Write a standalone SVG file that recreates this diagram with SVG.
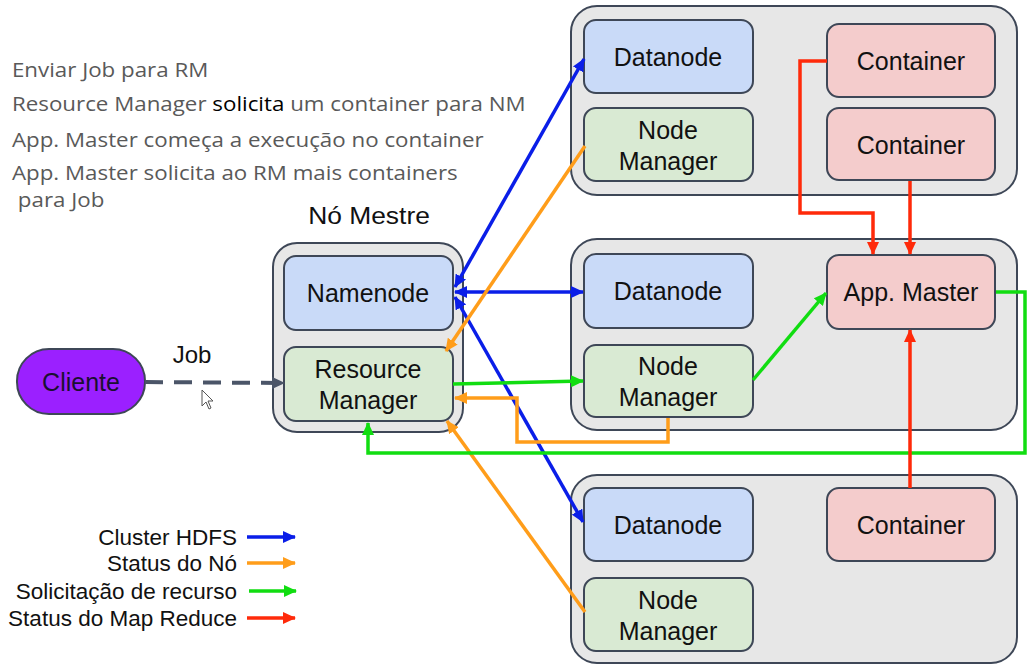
<svg xmlns="http://www.w3.org/2000/svg" width="1031" height="665" viewBox="0 0 1031 665">
<style>
.srv{fill:#e7e7e7;stroke:#3e4757;stroke-width:2}
.dn{fill:#c9daf8;stroke:#3e4757;stroke-width:2}
.nm{fill:#d9ead3;stroke:#3e4757;stroke-width:2}
.ct{fill:#f4cccc;stroke:#3e4757;stroke-width:2}
.lbl{font-family:"Liberation Sans",Arial,sans-serif;font-size:25px;fill:#111;text-anchor:middle}
.note{font-family:"Open Sans","Noto Sans",sans-serif;font-size:20px;fill:#595959}
.leg{font-family:"Liberation Sans",Arial,sans-serif;font-size:22.5px;fill:#111;text-anchor:end}
.c{fill:none;stroke-width:3.5;stroke-linejoin:miter}
.b{stroke:#0a1ee8}
.o{stroke:#ff9d1a}
.g{stroke:#11dd11}
.r{stroke:#ff2a0a}
</style>
<defs>
<marker id="ab" markerUnits="userSpaceOnUse" markerWidth="14" markerHeight="12" refX="12" refY="6" orient="auto-start-reverse"><path d="M0,0 L13,6 L0,12 Z" fill="#0a1ee8"/></marker>
<marker id="ao" markerUnits="userSpaceOnUse" markerWidth="14" markerHeight="12" refX="12" refY="6" orient="auto"><path d="M0,0 L13,6 L0,12 Z" fill="#ff9d1a"/></marker>
<marker id="ag" markerUnits="userSpaceOnUse" markerWidth="14" markerHeight="12" refX="12" refY="6" orient="auto"><path d="M0,0 L13,6 L0,12 Z" fill="#11dd11"/></marker>
<marker id="ar" markerUnits="userSpaceOnUse" markerWidth="14" markerHeight="12" refX="12" refY="6" orient="auto"><path d="M0,0 L13,6 L0,12 Z" fill="#ff2a0a"/></marker>
<marker id="ad" markerUnits="userSpaceOnUse" markerWidth="14" markerHeight="12" refX="12" refY="6" orient="auto"><path d="M0,0 L13,6 L0,12 Z" fill="#4b5568"/></marker>
</defs>
<rect width="1031" height="665" fill="#ffffff"/>

<g id="notes" transform="scale(1.117,1)">
<text class="note" x="10.7" y="77">Enviar Job para RM</text>
<text class="note" x="10.7" y="111">Resource Manager <tspan fill="#000">solicita</tspan> um container para NM</text>
<text class="note" x="10.7" y="147">App. Master começa a execução no container</text>
<text class="note" x="10.7" y="180">App. Master solicita ao RM mais containers</text>
<text class="note" x="16" y="207">para Job</text>
</g>

<g id="server-top">
<rect class="srv" x="571" y="6" width="446" height="189" rx="26"/>
</g>
<g id="server-mid">
<rect class="srv" x="571" y="239" width="446" height="191" rx="26"/>
</g>
<g id="server-bot">
<rect class="srv" x="571" y="475" width="446" height="188" rx="26"/>
</g>
<g id="master">
<rect class="srv" x="273" y="243" width="190" height="189" rx="24"/>
<text x="369" y="224" font-family="Liberation Sans,Arial,sans-serif" font-size="24" fill="#111" text-anchor="middle" transform="translate(369,0) scale(1.1,1) translate(-369,0)">Nó Mestre</text>
</g>

<g id="namenode"><rect class="dn" x="284" y="256" width="169" height="74" rx="12"/><text class="lbl" x="368" y="302">Namenode</text></g>
<g id="resource-manager"><rect class="nm" x="284" y="347" width="169" height="74" rx="12"/><text class="lbl" x="368" y="378">Resource</text><text class="lbl" x="368" y="409">Manager</text></g>

<g id="datanode-1"><rect class="dn" x="584" y="20" width="169" height="73" rx="12"/><text class="lbl" x="668" y="66">Datanode</text></g>
<g id="nodemanager-1"><rect class="nm" x="584" y="108" width="169" height="73" rx="12"/><text class="lbl" x="668" y="139">Node</text><text class="lbl" x="668" y="170">Manager</text></g>
<g id="container-1"><rect class="ct" x="827" y="24" width="168" height="73" rx="12"/><text class="lbl" x="911" y="70">Container</text></g>
<g id="container-2"><rect class="ct" x="827" y="108" width="168" height="72" rx="12"/><text class="lbl" x="911" y="154">Container</text></g>

<g id="datanode-2"><rect class="dn" x="584" y="254" width="169" height="74" rx="12"/><text class="lbl" x="668" y="300">Datanode</text></g>
<g id="nodemanager-2"><rect class="nm" x="584" y="345" width="169" height="72" rx="12"/><text class="lbl" x="668" y="375">Node</text><text class="lbl" x="668" y="406">Manager</text></g>
<g id="app-master"><rect class="ct" x="827" y="255" width="168" height="74" rx="12"/><text class="lbl" x="911" y="301">App. Master</text></g>

<g id="datanode-3"><rect class="dn" x="584" y="488" width="169" height="73" rx="12"/><text class="lbl" x="668" y="534">Datanode</text></g>
<g id="nodemanager-3"><rect class="nm" x="584" y="578" width="169" height="73" rx="12"/><text class="lbl" x="668" y="609">Node</text><text class="lbl" x="668" y="640">Manager</text></g>
<g id="container-3"><rect class="ct" x="827" y="488" width="168" height="73" rx="12"/><text class="lbl" x="911" y="534">Container</text></g>

<g id="cliente"><rect x="17" y="349" width="128" height="65" rx="32" fill="#9b20ff" stroke="#3e4757" stroke-width="2"/><text x="81" y="391" font-family="Liberation Sans,Arial,sans-serif" font-size="25" fill="#1a1030" text-anchor="middle">Cliente</text></g>

<g id="connectors">
<line x1="145" y1="382" x2="284" y2="383" stroke="#4b5568" stroke-width="4" stroke-dasharray="18,11" marker-end="url(#ad)"/>
<text x="192" y="363" font-family="Liberation Sans,Arial,sans-serif" font-size="24" fill="#111" text-anchor="middle">Job</text>
<path d="M202,390 L202,406 L206,402 L209,409 L211,408 L208,401 L213,401 Z" fill="#fff" stroke="#555" stroke-width="1"/>

<line class="c b" x1="455" y1="287" x2="584" y2="59" marker-start="url(#ab)" marker-end="url(#ab)"/>
<line class="c b" x1="455" y1="292" x2="583" y2="292" marker-start="url(#ab)" marker-end="url(#ab)"/>
<line class="c b" x1="455" y1="297" x2="583" y2="522" marker-start="url(#ab)" marker-end="url(#ab)"/>

<line class="c o" x1="585" y1="146" x2="446" y2="351" marker-end="url(#ao)"/>
<polyline class="c o" points="668,418 668,442 517,442 517,398 455,398" marker-end="url(#ao)"/>
<line class="c o" x1="585" y1="612" x2="447" y2="421" marker-end="url(#ao)"/>

<line class="c g" x1="453" y1="384" x2="583" y2="381" marker-end="url(#ag)"/>
<line class="c g" x1="753" y1="380" x2="826" y2="293" marker-end="url(#ag)"/>
<polyline class="c g" points="996,292 1025,292 1025,453 368,453 368,423" marker-end="url(#ag)"/>

<polyline class="c r" points="827,61 800,61 800,213 873,213 873,254" marker-end="url(#ar)"/>
<line class="c r" x1="910" y1="181" x2="910" y2="254" marker-end="url(#ar)"/>
<line class="c r" x1="910" y1="488" x2="910" y2="330" marker-end="url(#ar)"/>
</g>

<g id="legend">
<text class="leg" x="237" y="545">Cluster HDFS</text>
<text class="leg" x="237" y="571">Status do Nó</text>
<text class="leg" x="237" y="599">Solicitação de recurso</text>
<text class="leg" x="237" y="626">Status do Map Reduce</text>
<line class="c b" x1="247" y1="537" x2="295" y2="537" marker-end="url(#ab)"/>
<line class="c o" x1="247" y1="563" x2="295" y2="563" marker-end="url(#ao)"/>
<line class="c g" x1="249" y1="591" x2="296" y2="591" marker-end="url(#ag)"/>
<line class="c r" x1="247" y1="618" x2="295" y2="618" marker-end="url(#ar)"/>
</g>
</svg>
